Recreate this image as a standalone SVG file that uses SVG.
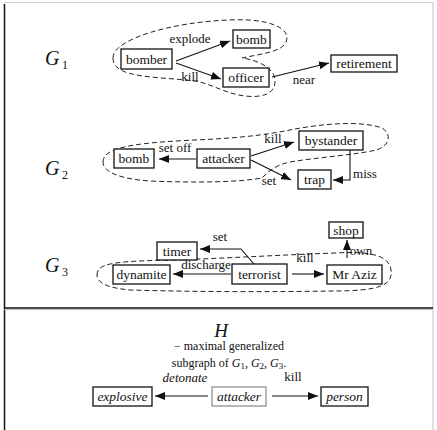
<svg xmlns="http://www.w3.org/2000/svg" width="437" height="430" viewBox="0 0 437 430">
<style>
text{font-family:"Liberation Serif","DejaVu Serif",serif;fill:#111}
.n{font-size:13.5px;text-anchor:middle}
.it{font-style:italic}
.l{font-size:13px;text-anchor:middle}
.box{fill:#fff;stroke:#111;stroke-width:1.3}
.gbox{fill:#fff;stroke:#888;stroke-width:1.2}
.e{fill:none;stroke:#111;stroke-width:1.1;marker-end:url(#ah)}
.hull{fill:none;stroke:#222;stroke-width:1;stroke-dasharray:5 3}
.G{font-size:20px;font-style:italic}
.sub{font-size:12px}
</style>
<defs>
<marker id="ah" markerUnits="userSpaceOnUse" markerWidth="10" markerHeight="8" refX="10" refY="4" orient="auto">
<path d="M0,0 L10,4 L0,8 z" fill="#111"/>
</marker>
</defs>
<rect width="437" height="430" fill="#fff"/>
<g id="frame">
<line x1="4" y1="2.5" x2="433" y2="2.5" stroke="#ccc" stroke-width="1.2"/>
<line x1="433" y1="2.5" x2="433" y2="430" stroke="#ccc" stroke-width="1.2"/>
<line x1="4.5" y1="4" x2="4.5" y2="430" stroke="#111" stroke-width="1.5"/>
<line x1="4" y1="308" x2="433" y2="308" stroke="#111" stroke-width="1.5"/>
<line x1="4" y1="309.7" x2="433" y2="309.7" stroke="#bbb" stroke-width="1"/>
</g>
<g id="hulls">
<path class="hull" d="M113,58 C112,40 170,22 230,20 C268,18 292,28 286,42 C282,52 260,54 242,58 C258,60 274,68 275,80 C276,94 262,98 245,96 C228,94 215,86 200,82 C180,78 150,79 128,73 C116,69 113,64 113,58 Z"/>
<path class="hull" d="M103,162 C103,148 130,143 195,140 C240,138 265,135 290,130 C320,124 360,120 382,128 C392,134 390,146 376,150 C355,155 320,157 290,162 C275,165 268,172 262,178 C240,182 200,183 150,181 C120,179 103,172 103,162 Z"/>
<path class="hull" d="M97,275 C97,264 110,261 175,260 C230,258 280,255 335,253 C370,251 389,255 391,270 C393,285 380,291 333,291 C270,292 200,292 130,290 C108,288 97,283 97,275 Z"/>
</g>
<g id="labels">
<text class="G" x="45" y="65">G</text><text class="sub" x="62" y="69">1</text>
<text class="G" x="45" y="175">G</text><text class="sub" x="62" y="179">2</text>
<text class="G" x="45" y="272">G</text><text class="sub" x="62" y="276">3</text>
<text x="221" y="337" style="font-size:19px;font-style:italic;text-anchor:middle">H</text>
<text x="229" y="350" style="font-size:12px;text-anchor:middle">− maximal generalized</text>
<text x="229" y="367" style="font-size:12px;text-anchor:middle">subgraph of <tspan font-style="italic">G</tspan><tspan font-size="9" dy="2">1</tspan><tspan dy="-2">, </tspan><tspan font-style="italic">G</tspan><tspan font-size="9" dy="2">2</tspan><tspan dy="-2">, </tspan><tspan font-style="italic">G</tspan><tspan font-size="9" dy="2">3</tspan><tspan dy="-2">.</tspan></text>
</g>
<g id="connectors">
<path class="e" d="M176,61 L230,41"/>
<path class="e" d="M176,63 L221,79"/>
<path class="e" d="M272,77 L329,63"/>
<path class="e" d="M196,159 L159,159"/>
<path class="e" d="M251,156 L294,142"/>
<path class="e" d="M251,160 L291,180"/>
<path class="e" d="M350,150 L350,180 L333,180"/>
<path class="e" d="M231,274 L173,274"/>
<path class="e" d="M254,264 L241,249 L200,249"/>
<path class="e" d="M292,274 L324,274"/>
<path class="e" d="M347,258 L347,240"/>
<path class="e" d="M208,396 L155,396"/>
<path class="e" d="M272,396 L318,396"/>
<text class="l" x="190" y="43">explode</text>
<text class="l" x="190" y="81">kill</text>
<text class="l" x="304" y="84">near</text>
<text class="l" x="175" y="152">set off</text>
<text class="l" x="273" y="143">kill</text>
<text class="l" x="269" y="185">set</text>
<text class="l" x="365" y="178">miss</text>
<text class="l" x="220" y="241">set</text>
<text class="l" x="206" y="269">discharge</text>
<text class="l" x="305" y="262">kill</text>
<text class="l" x="361" y="255">own</text>
<text class="l it" x="185" y="382">detonate</text>
<text class="l" x="293" y="381">kill</text>
</g>
<g id="n-bomber"><rect class="box" x="121" y="49" width="51" height="20"/><text class="n" x="146.5" y="63.5">bomber</text></g>
<g id="n-bomb1"><rect class="box" x="233" y="30" width="37" height="18"/><text class="n" x="251.5" y="43.5">bomb</text></g>
<g id="n-officer"><rect class="box" x="223" y="68" width="46" height="19"/><text class="n" x="246" y="82">officer</text></g>
<g id="n-retirement"><rect class="box" x="331" y="55" width="66" height="17"/><text class="n" x="364" y="68">retirement</text></g>
<g id="n-bomb2"><rect class="box" x="114" y="149" width="40" height="19"/><text class="n" x="134" y="163">bomb</text></g>
<g id="n-attacker"><rect class="box" x="197" y="149" width="53" height="19"/><text class="n" x="223.5" y="163">attacker</text></g>
<g id="n-bystander"><rect class="box" x="299" y="131" width="64" height="19"/><text class="n" x="331" y="145">bystander</text></g>
<g id="n-trap"><rect class="box" x="298" y="170" width="33" height="19"/><text class="n" x="314.5" y="184">trap</text></g>
<g id="n-shop"><rect class="box" x="329" y="222" width="34" height="16"/><text class="n" x="346" y="234.5">shop</text></g>
<g id="n-timer"><rect class="box" x="157" y="242" width="40" height="18"/><text class="n" x="177" y="255.5">timer</text></g>
<g id="n-dynamite"><rect class="box" x="113" y="265" width="57" height="19"/><text class="n" x="141.5" y="279">dynamite</text></g>
<g id="n-terrorist"><rect class="box" x="232" y="264" width="55" height="20"/><text class="n" x="259.5" y="278.5">terrorist</text></g>
<g id="n-mraziz"><rect class="box" x="327" y="265" width="55" height="19"/><text class="n" x="354.5" y="279">Mr Aziz</text></g>
<g id="n-explosive"><rect class="box" x="93" y="387" width="59" height="19"/><text class="n it" x="122.5" y="401">explosive</text></g>
<g id="n-attackerH"><rect class="gbox" x="212" y="387" width="54" height="19"/><text class="n it" x="239" y="401">attacker</text></g>
<g id="n-person"><rect class="box" x="321" y="387" width="47" height="19"/><text class="n it" x="344.5" y="401">person</text></g>
</svg>
